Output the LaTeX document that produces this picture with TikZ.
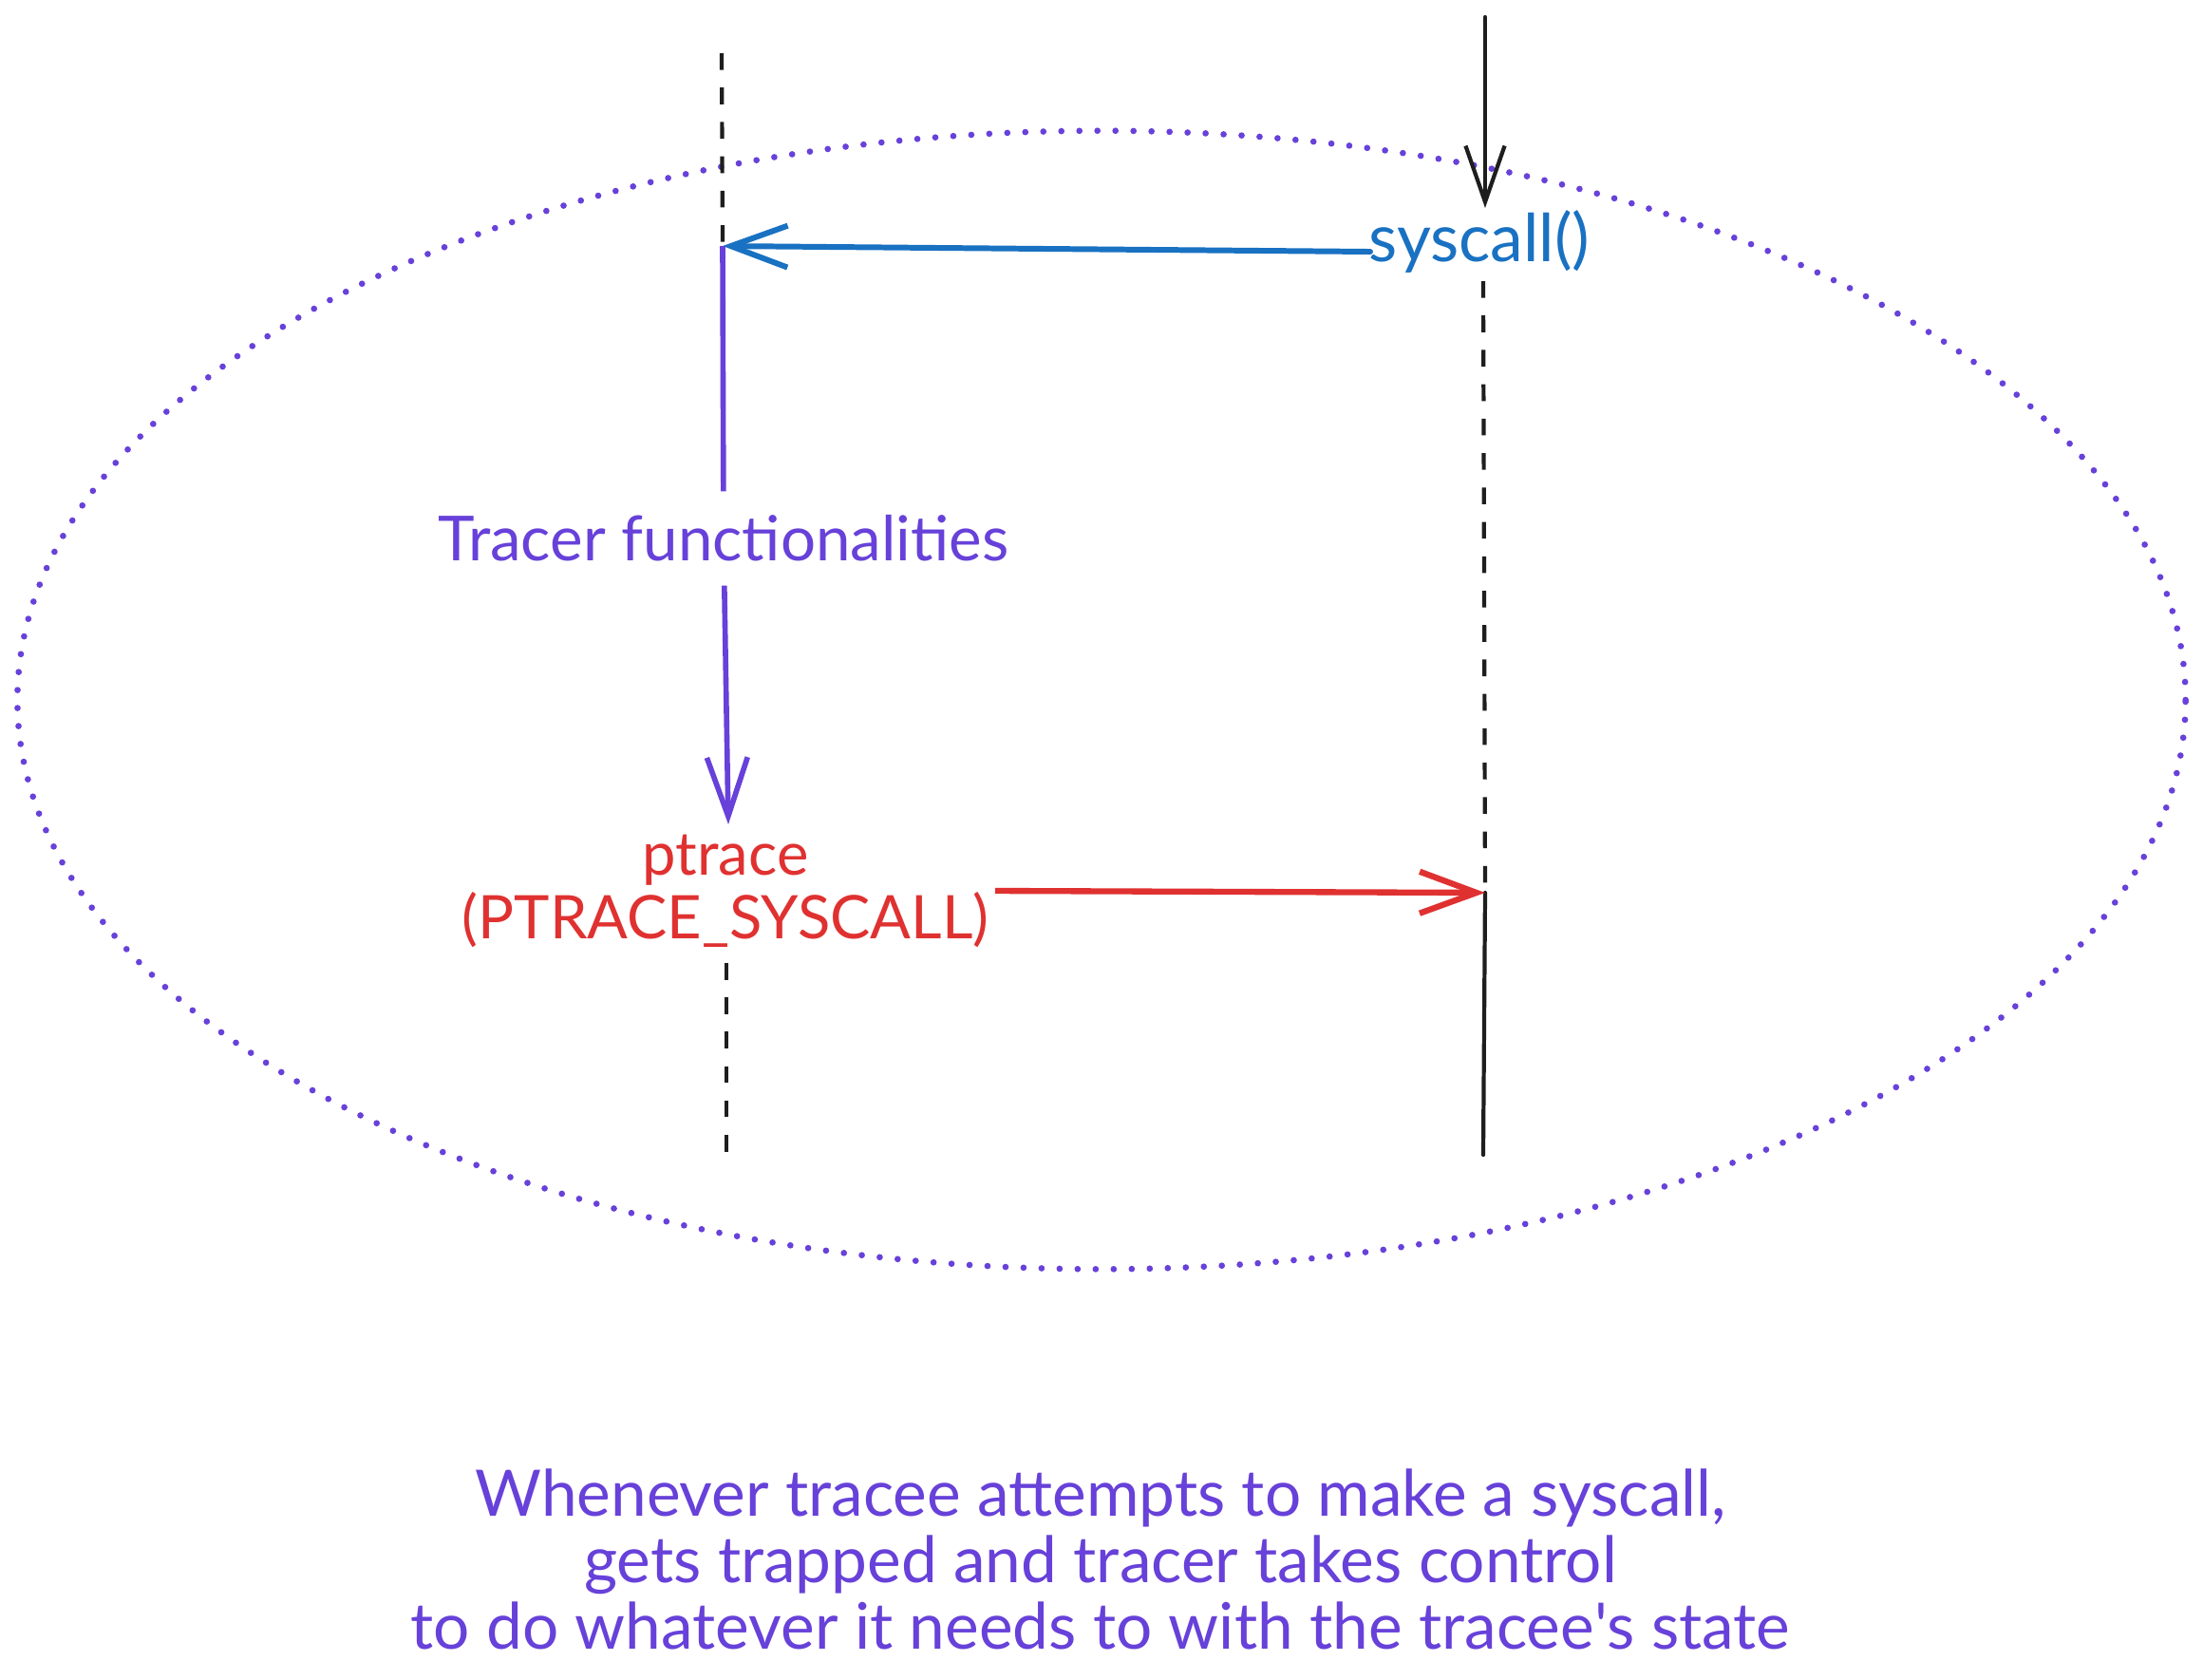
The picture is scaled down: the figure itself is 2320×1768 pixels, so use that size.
\documentclass[tikz,border=0pt]{standalone}
\usepackage{fontspec}
\setmainfont{Lato}
\usetikzlibrary{arrows.meta}
\definecolor{violetx}{HTML}{6741D9}
\definecolor{bluex}{HTML}{1971C2}
\definecolor{redx}{HTML}{E03131}
\definecolor{inkx}{HTML}{1E1E1E}
\tikzset{
  lifesolid/.style={draw=inkx, line width=1.2pt, line cap=round},
  lifedash/.style={draw=inkx, line width=1.2pt, dash pattern=on 5pt off 5.3pt},
  barb/.style={-{Straight Barb[length=17pt,width=12.5pt]}},
  txt/.style={inner sep=2pt, align=center},
  ring/.style={draw=violetx, line width=1.9pt, line cap=round, dash pattern=on 0pt off 5.4pt},
}
\begin{document}
\begin{tikzpicture}[x=0.01cm,y=-0.01cm]
\useasboundingbox (0,0) rectangle (2320,1768);
% ellipse
\draw[ring] (1160,737) ellipse [x radius=11.41cm, y radius=5.99cm];
% left lifeline
\coordinate (Ltop) at (760,56);
\coordinate (Lcall) at (761,259);
\node[txt, text=violetx, font=\fontsize{18.6}{21}\selectfont, inner ysep=7pt] (tf) at (762,567) {Tracer functionalities};
\coordinate (Lp) at (767,868);
\node[txt, text=redx, font=\fontsize{18}{19}\selectfont, inner sep=0pt] (pt) at (764,938) {ptrace\\(PTRACE\_SYSCALL)};
\coordinate (ptE) at (1048,938);
\coordinate (Lb1) at (765,1014);
\coordinate (Lb2) at (765,1216);
% right lifeline
\coordinate (Rtop) at (1564,18);
\coordinate (Rarr) at (1564,219);
\node[txt, text=bluex, font=\fontsize{19.8}{22}\selectfont, inner sep=0pt] (sys) at (1558,254) {syscall()};
\coordinate (sysW) at (1443,265);
\coordinate (Rd1) at (1562,296);
\coordinate (Rptr) at (1564,940);
\coordinate (Rb) at (1562,1216);
% lifelines
\draw[lifedash] (Ltop) -- (Lcall);
\draw[lifedash] (Lb1) -- (Lb2);
\draw[lifesolid, -{Straight Barb[length=16.8pt,width=11.7pt]}] (Rtop) -- (Rarr);
\draw[lifedash] (Rd1) -- (Rptr);
\draw[lifesolid] (Rptr) -- (Rb);
% messages
\draw[bluex, line width=1.7pt, line cap=round, barb] (sysW) -- (Lcall);
\draw[violetx, line width=1.6pt] (Lcall) -- (tf);
\draw[violetx, line width=1.6pt, -{Straight Barb[length=17.6pt,width=12.2pt]}] (tf) -- (Lp);
\draw[redx, line width=1.8pt, barb] (ptE) -- (Rptr);
% caption
\node[txt, text=violetx, font=\fontsize{19.2}{19.8}\selectfont] (cap) at (1159,1642) {Whenever tracee attempts to make a syscall,\\gets trapped and tracer takes control\\to do whatever it needs to with the tracee\textquotesingle s state};
\end{tikzpicture}
\end{document}
